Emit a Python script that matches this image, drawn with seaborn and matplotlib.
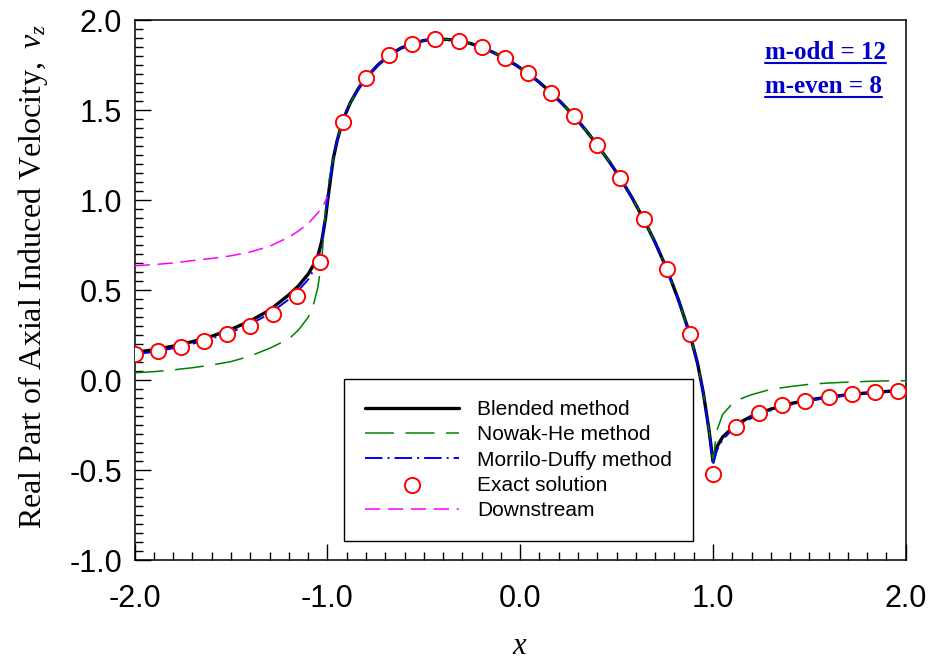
import numpy as np
import pandas as pd
import seaborn as sns
import matplotlib.pyplot as plt
from matplotlib.lines import Line2D
from matplotlib.ticker import MultipleLocator, FormatStrFormatter

# ---- data ----
# main arc between the two singular points (shared by the three methods)
x_arc = [-0.97, -0.95, -0.92, -0.88, -0.84, -0.8, -0.74, -0.68, -0.62, -0.56, -0.5,
         -0.44, -0.38, -0.32, -0.26, -0.2, -0.14, -0.08, -0.02, 0.04, 0.1, 0.16,
         0.22, 0.28, 0.34, 0.4, 0.46, 0.52, 0.58, 0.64, 0.7, 0.76, 0.82, 0.88,
         0.92, 0.95, 0.98]
y_arc = [1.23, 1.33, 1.445, 1.545, 1.62, 1.68, 1.75, 1.806, 1.845, 1.87, 1.888,
         1.895, 1.894, 1.887, 1.872, 1.85, 1.822, 1.789, 1.75, 1.706, 1.655, 1.598,
         1.535, 1.467, 1.39, 1.307, 1.218, 1.122, 1.015, 0.896, 0.766, 0.62, 0.45, 0.257,
         0.095, -0.07, -0.28]

# upstream branch (x < -1) and downstream branch (x >= 1)
x_left = [-2.0, -1.9, -1.8, -1.7, -1.6, -1.5, -1.4, -1.3, -1.2, -1.15, -1.1,
          -1.07, -1.05, -1.03, -1.01, -1.0, -0.99]
x_right = [1.0, 1.02, 1.05, 1.1, 1.15, 1.2, 1.3, 1.4, 1.5, 1.6, 1.7, 1.8, 1.9, 2.0]

blend_left = [0.155, 0.17, 0.19, 0.215, 0.245, 0.283, 0.33, 0.39, 0.475, 0.525, 0.59,
              0.645, 0.69, 0.77, 0.9, 0.99, 1.07]
blend_right = [-0.45, -0.37, -0.315, -0.265, -0.228, -0.2, -0.16, -0.13, -0.108,
               -0.093, -0.08, -0.07, -0.062, -0.055]

nowak_left = [0.042, 0.048, 0.058, 0.07, 0.085, 0.104, 0.135, 0.178, 0.23, 0.28, 0.35,
              0.43, 0.515, 0.66, 0.95, 1.05, 1.12]
nowak_right = [-0.45, -0.28, -0.19, -0.13, -0.1, -0.08, -0.05, -0.035, -0.022, -0.015,
               -0.01, -0.006, -0.003, -0.002]

morr_left = [0.145, 0.158, 0.178, 0.203, 0.232, 0.268, 0.312, 0.37, 0.45, 0.5, 0.56,
             0.615, 0.67, 0.76, 0.92, 1.0, 1.08]
morr_right = [-0.47, -0.39, -0.33, -0.275, -0.238, -0.21, -0.167, -0.136, -0.113,
              -0.097, -0.083, -0.073, -0.065, -0.058]

x_down = [-2.0, -1.9, -1.8, -1.7, -1.6, -1.5, -1.4, -1.3, -1.2, -1.15, -1.1, -1.05,
          -1.02, -1.0]
y_down = [0.636, 0.643, 0.652, 0.665, 0.677, 0.692, 0.713, 0.745, 0.795, 0.83, 0.87,
          0.93, 0.975, 1.02]

x_exact = [-2.0, -1.88, -1.76, -1.64, -1.52, -1.4, -1.28, -1.16, -1.04, -0.92, -0.8,
           -0.68, -0.56, -0.44, -0.32, -0.2, -0.08, 0.04, 0.16, 0.28, 0.4, 0.52, 0.64,
           0.76, 0.88, 1.0, 1.12, 1.24, 1.36, 1.48, 1.6, 1.72, 1.84, 1.96]
y_exact = [0.148, 0.164, 0.187, 0.218, 0.257, 0.303, 0.37, 0.47, 0.659, 1.437, 1.678,
           1.806, 1.868, 1.894, 1.887, 1.85, 1.789, 1.706, 1.598, 1.467, 1.307, 1.122,
           0.896, 0.62, 0.257, -0.521, -0.258, -0.18, -0.139, -0.113, -0.093, -0.074,
           -0.065, -0.059]

# ---- style ----
sns.set_theme(style='ticks')
plt.rcParams['font.family'] = ['Liberation Sans', 'DejaVu Sans']
plt.rcParams['mathtext.fontset'] = 'custom'
plt.rcParams['mathtext.rm'] = 'Liberation Serif'
plt.rcParams['mathtext.it'] = 'Liberation Serif:italic'
plt.rcParams['text.color'] = 'black'
plt.rcParams['axes.labelcolor'] = 'black'
plt.rcParams['xtick.color'] = 'black'
plt.rcParams['ytick.color'] = 'black'

fig = plt.figure(figsize=(9.3, 6.62), dpi=100)
ax = fig.add_axes([0.1448, 0.1536, 0.8291, 0.8157])

sns.lineplot(x=x_left + x_arc + x_right, y=blend_left + y_arc + blend_right,
             sort=False, color='black', linewidth=2.4, ax=ax, label='Blended method', zorder=2)
sns.lineplot(x=x_left + x_arc + x_right, y=nowak_left + y_arc + nowak_right,
             sort=False, color='#008000', linewidth=1.1, linestyle=(0, (19, 7.5)),
             ax=ax, label='Nowak-He method', zorder=3)
sns.lineplot(x=x_left + x_arc + x_right, y=morr_left + y_arc + morr_right,
             sort=False, color='#0000FF', linewidth=1.4, linestyle=(0, (9, 2.6, 1, 2.6)),
             ax=ax, label='Morrilo-Duffy method', zorder=3)
sns.scatterplot(x=x_exact, y=y_exact, marker='o', s=120, facecolor='white',
                edgecolor='#FF0000', linewidth=1.4, ax=ax, label='Exact solution', zorder=5)
sns.lineplot(x=x_down, y=y_down, sort=False, color='#FF00FF', linewidth=1.1,
             linestyle=(0, (10, 5)), ax=ax, label='Downstream', zorder=3)

ax.set_xlim(-2.0, 2.0)
ax.set_ylim(-1.0, 2.0)
ax.xaxis.set_major_locator(MultipleLocator(1.0))
ax.xaxis.set_minor_locator(MultipleLocator(0.1))
ax.yaxis.set_major_locator(MultipleLocator(0.5))
ax.yaxis.set_minor_locator(MultipleLocator(0.05))
ax.xaxis.set_major_formatter(FormatStrFormatter('%.1f'))
ax.yaxis.set_major_formatter(FormatStrFormatter('%.1f'))
ax.tick_params(axis='both', which='both', direction='in', top=False, right=False,
               width=1.0, colors='black', labelsize=22)
ax.tick_params(axis='both', which='major', length=11.5)
ax.tick_params(axis='both', which='minor', length=5.8)
ax.tick_params(axis='x', which='major', pad=17)
ax.tick_params(axis='y', which='major', pad=9)
for side in ['top', 'right', 'bottom', 'left']:
    ax.spines[side].set_visible(True)
    ax.spines[side].set_linewidth(1.1)
    ax.spines[side].set_color('black')

ax.set_xlabel(r'$x$', fontsize=22, labelpad=12)
ax.set_ylabel(r'$\mathrm{Real\ Part\ of\ Axial\ Induced\ Velocity,}\ v_z$',
              fontsize=23, labelpad=14)
ax.yaxis.label.set_y(0.526)

handles, labels = ax.get_legend_handles_labels()
leg = ax.legend(handles, labels, loc='lower left', bbox_to_anchor=(0.2715, 0.036),
                borderaxespad=0, frameon=True, fancybox=False, framealpha=1,
                edgecolor='black', fontsize=15, handlelength=4.5, handletextpad=0.9,
                labelspacing=0.3, borderpad=1.0, scatterpoints=1, labelcolor='black')
leg.get_frame().set_linewidth(1.0)

# annotation with underline
txt_kw = dict(transform=ax.transAxes, ha='left', va='baseline', color='#0000C8',
              fontsize=18, fontweight='bold', family='Liberation Serif')
t1 = ax.text(0.818, 0.928, 'm-odd = 12', **txt_kw)
t2 = ax.text(0.818, 0.866, 'm-even = 8', **txt_kw)

fig.canvas.draw()
inv = fig.transFigure.inverted()
for t in (t1, t2):
    bb = t.get_window_extent()
    base = ax.transAxes.transform(t.get_position())[1]
    (x0, y0), (x1, _) = inv.transform([(bb.x0, base - 4), (bb.x1, base - 4)])
    fig.add_artist(Line2D([x0, x1], [y0, y0], transform=fig.transFigure,
                          color='#0000C8', linewidth=1.5))

fig.savefig('out.png', dpi=100)
